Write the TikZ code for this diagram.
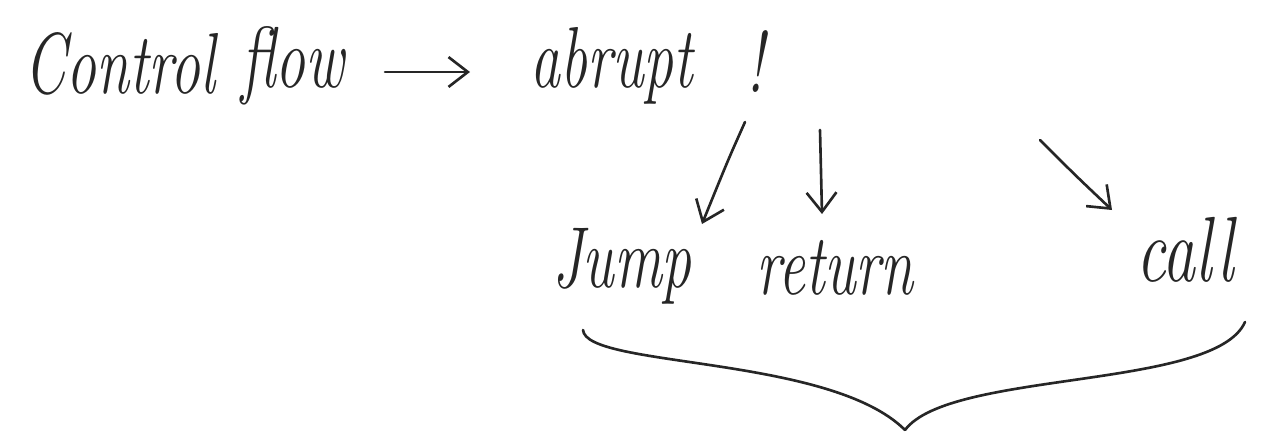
\documentclass[tikz,border=0pt]{standalone}
\usepackage{fontspec}
\usetikzlibrary{arrows.meta}
\tikzset{
  hand/.style={font=\fontsize{34}{40}\selectfont\itshape, inner sep=0pt, text=black!85},
  pen/.style={line width=1.5pt, black!85, line cap=round, line join=round},
  arr/.style={pen, -{Straight Barb[length=11pt,width=17pt,line width=1.5pt]}}
}
\newcommand{\tall}[1]{\scalebox{1}[1.45]{#1}}
\begin{document}
\begin{tikzpicture}[x=0.02cm,y=-0.02cm]
  \useasboundingbox (0,0) rectangle (1270,436);
  % words
  \node[hand] (control) at (120,64) {\tall{Control}};
  \node[hand] (flow)    at (293,66) {\tall{flow}};
  \node[hand] (abrupt)  at (612,66) {\tall{abrupt}};
  \node[hand] (bang)    at (755,62) {\tall{!}};
  \node[hand] (jump)    at (622,266) {\tall{Jump}};
  \node[hand] (return)  at (835,268) {\tall{return}};
  \node[hand] (call)    at (1185,250) {\scalebox{1.1}[1.55]{call}};
  % arrow after "flow"
  \coordinate (f1) at (385,72);
  \coordinate (f2) at (470,72);
  \draw[arr] (f1) -- (f2);
  % three branches below "abrupt"
  \coordinate (j1) at (745,122);
  \coordinate (j2) at (702,224);
  \coordinate (r1) at (820,130);
  \coordinate (r2) at (822,214);
  \coordinate (c1) at (1040,140);
  \coordinate (c2) at (1112,210);
  \draw[arr] (j1) .. controls (728,160) .. (j2);
  \draw[arr] (r1) .. controls (821,170) .. (r2);
  \draw[arr] (c1) .. controls (1075,175) .. (c2);
  % brace under the three words
  \coordinate (bl) at (583,330);
  \coordinate (bt) at (905,430);
  \coordinate (br) at (1245,322);
  \draw[pen] (bl) .. controls (586,368) and (830,355) .. (bt);
  \draw[pen] (bt) .. controls (950,370) and (1215,390) .. (br);
\end{tikzpicture}
\end{document}
